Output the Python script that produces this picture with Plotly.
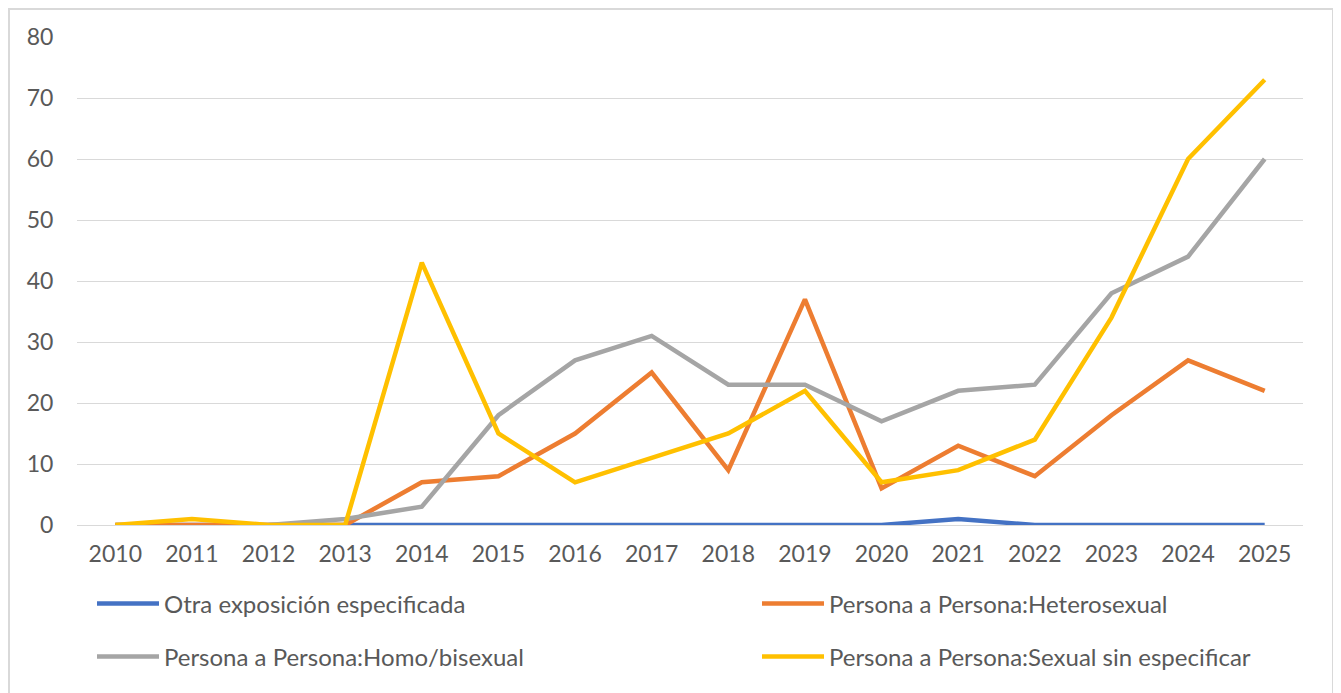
import plotly.graph_objects as go

years = list(range(2010, 2026))
otra = [0, 0, 0, 0, 0, 0, 0, 0, 0, 0, 0, 1, 0, 0, 0, 0]
hetero = [0, 0, 0, 0, 7, 8, 15, 25, 9, 37, 6, 13, 8, 18, 27, 22]
homo = [None, None, 0, 1, 3, 18, 27, 31, 23, 23, 17, 22, 23, 38, 44, 60]
sinesp = [0, 1, 0, 0, 43, 15, 7, 11, 15, 22, 7, 9, 14, 34, 60, 73]

names = ["Otra exposición especificada", "Persona a Persona:Heterosexual",
         "Persona a Persona:Homo/bisexual", "Persona a Persona:Sexual sin especificar"]
colors = ["#4472C4", "#ED7D31", "#A5A5A5", "#FFC000"]
series = [otra, hetero, homo, sinesp]
legends = ["legend", "legend2", "legend3", "legend4"]

FONT = "Lato, Open Sans, sans-serif"
FS = 23
LFS = 24
fig = go.Figure()
for n, c, s, lg in zip(names, colors, series, legends):
    fig.add_trace(go.Scatter(x=years, y=s, name=n, mode="lines",
                             line=dict(color=c, width=4.5), legend=lg))

W, H = 1341, 693
L, R, T, B = 69, 46, 29, 176
pw, ph = W - L - R, H - T - B

def px(x):
    return (x - L) / pw

def py(y):
    return (H - B - y) / ph

leg_common = dict(orientation="h", xref="container", yref="container",
                  xanchor="left", yanchor="middle",
                  font=dict(size=LFS, color="#595959"),
                  bgcolor="rgba(0,0,0,0)", itemwidth=62)

col_x = [84, 749]
row_y = [596, 649]
leg_pos = [(col_x[0], row_y[0]), (col_x[1], row_y[0]), (col_x[0], row_y[1]), (col_x[1], row_y[1])]

layout_legs = {}
for lg, (lx, ly) in zip(legends, leg_pos):
    layout_legs[lg] = dict(x=lx / W, y=1 - ly / H, **leg_common)

fig.update_layout(
    width=W, height=H,
    margin=dict(l=L, r=R, t=T, b=B, autoexpand=False),
    plot_bgcolor="white", paper_bgcolor="white",
    font=dict(family=FONT, size=FS, color="#595959"),
    xaxis=dict(range=[2009.5, 2025.5], tickmode="array", tickvals=years,
               ticktext=[str(y) for y in years], showgrid=False, zeroline=False,
               showline=False, ticks="outside", ticklen=8, tickcolor="rgba(0,0,0,0)",
               tickfont=dict(size=FS, color="#595959")),
    yaxis=dict(range=[0, 80], dtick=10, showgrid=True, gridcolor="#D9D9D9",
               gridwidth=1, zeroline=True, zerolinecolor="#D9D9D9", zerolinewidth=1,
               showline=False, ticks="outside", ticklen=18, tickcolor="rgba(0,0,0,0)",
               tickfont=dict(size=FS, color="#595959")),
    showlegend=True,
    **layout_legs,
)

fig.add_shape(type="rect", xref="paper", yref="paper",
              x0=px(1), x1=px(1325), y0=py(720), y1=py(1),
              line=dict(color="#D9D9D9", width=2), fillcolor="rgba(0,0,0,0)", layer="below")

fig.write_html("out.html")
